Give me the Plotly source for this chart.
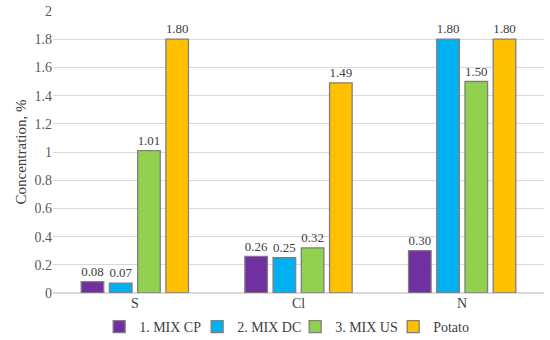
import plotly.graph_objects as go

categories = ["S", "Cl", "N"]
series_names = ["1. MIX CP", "2. MIX DC", "3. MIX US", "Potato"]
mix_cp = [0.08, 0.26, 0.30]
mix_dc = [0.07, 0.25, 1.80]
mix_us = [1.01, 0.32, 1.50]
potato = [1.80, 1.49, 1.80]
colors = ["#7030A0", "#00B0F0", "#92D050", "#FFC000"]
y_ticks = [0, 0.2, 0.4, 0.6, 0.8, 1, 1.2, 1.4, 1.6, 1.8, 2]

font = "Liberation Serif"
fig = go.Figure()
for name, vals, c in zip(series_names, [mix_cp, mix_dc, mix_us, potato], colors):
    fig.add_trace(go.Bar(
        x=categories, y=vals, name=name,
        marker=dict(color=c, line=dict(color="#7F7F7F", width=1.3)),
        text=[f"{v:.2f}" for v in vals], textposition="outside",
        textfont=dict(family=font, size=14, color="#404040"),
        cliponaxis=False,
    ))

fig.update_layout(
    width=550, height=340,
    margin=dict(l=53, r=6, t=11, b=47, autoexpand=False),
    paper_bgcolor="white", plot_bgcolor="white",
    barmode="group", bargap=0.31, bargroupgap=0.2,
    font=dict(family=font, size=14, color="#595959"),
    showlegend=True,
    legend=dict(orientation="h", x=0.094, xanchor="left", y=0.085, yanchor="top",
                yref="container", entrywidth=53, entrywidthmode="pixels",
                font=dict(family=font, size=14, color="#404040"),
                itemwidth=30, traceorder="normal", itemclick=False,
                tracegroupgap=0, bgcolor="rgba(0,0,0,0)"),
    xaxis=dict(showline=False, ticks="", automargin=False,
               tickfont=dict(family=font, size=14, color="#404040")),
    yaxis=dict(range=[0, 2], tickvals=y_ticks, showgrid=True, gridcolor="#D9D9D9",
               gridwidth=1, zeroline=True, zerolinecolor="#D9D9D9", automargin=False,
               tickfont=dict(family=font, size=14, color="#595959"),
               title=dict(text="Concentration, %", font=dict(family=font, size=15, color="#404040"), standoff=4)),
)
fig.write_html("out.html", config={"displayModeBar": False},
               post_script="document.body.style.margin='0';")
